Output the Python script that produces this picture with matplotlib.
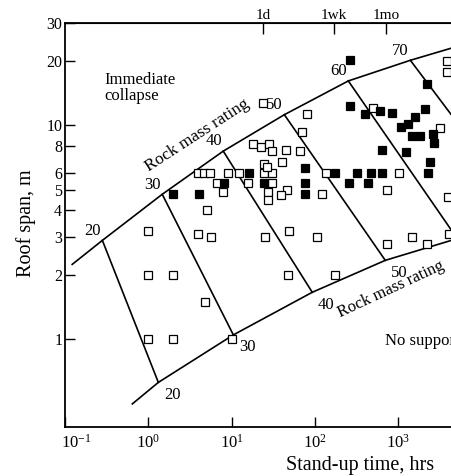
import numpy as np
import matplotlib
matplotlib.use("Agg")
import matplotlib.pyplot as plt
import matplotlib.transforms as mtransforms
from matplotlib.ticker import NullLocator

plt.rcParams["font.family"] = ["Liberation Serif", "DejaVu Serif"]
plt.rcParams["mathtext.fontset"] = "stix"

# boundary curves of the stand-up time chart (hrs, m)
upper_time = [0.122, 0.281, 1.47, 7.94, 43, 252, 1400, 4340, 20000]
upper_span = [2.24, 2.90, 4.76, 7.57, 11.2, 16.1, 20.1, 22.9, 27]
lower_time = [0.643, 1.32, 10.5, 93, 700, 4340, 40000]
lower_span = [0.50, 0.63, 1.05, 1.66, 2.34, 2.90, 3.55]

# rock mass rating divider lines
rmr = [20, 30, 40, 50, 60, 70]
rmr_top_time = [0.281, 1.47, 7.94, 43, 252, 1400]
rmr_top_span = [2.90, 4.76, 7.57, 11.2, 16.1, 20.1]
rmr_bot_time = [1.32, 10.5, 93, 700, 5100, 40000]
rmr_bot_span = [0.63, 1.05, 1.66, 2.34, 2.96, 3.55]

# case histories: open squares
open_time = [1.0, 1.0, 2.0, 4.8, 1.0, 2.0, 10, 3.9, 5.7, 5.0,
             3.9, 4.7, 5.5, 6.7, 7.9, 9.1, 12.4, 15.9, 24.7, 30.8,
             30.8, 18.2, 22.7, 28.3, 30.8, 45.4, 66.8, 40.5, 24.7, 26.9,
             27.6, 46.7, 39.5, 27.6, 123, 137, 24, 81, 70.6, 1030,
             740, 502, 3200, 3880, 3880, 3990, 25, 49, 107, 48,
             176, 740, 1480, 2240, 4100]
open_span = [3.2, 2.0, 2.0, 1.5, 1.0, 1.0, 1.0, 3.1, 3.0, 4.0,
             6.0, 6.0, 6.0, 5.4, 4.9, 6.0, 6.0, 5.4, 6.0, 6.0,
             5.4, 8.2, 7.9, 8.2, 7.6, 7.7, 7.6, 6.7, 6.6, 6.4,
             4.9, 5.0, 4.7, 4.5, 4.8, 6.0, 12.7, 11.3, 9.3, 6.0,
             5.0, 12.1, 9.7, 19.9, 17.7, 4.6, 3.0, 3.2, 3.0, 2.0,
             2.0, 2.8, 3.0, 2.8, 3.1]

# case histories: filled squares
fill_time = [2.0, 4.1, 8.2, 16.3, 24.7, 76.7, 76.7, 76.7, 176, 259,
             323, 438, 475, 644, 2300, 2430, 644, 1250, 266, 403,
             610, 849, 2115, 1090, 1320, 1600, 1480, 1840, 2640, 2710,
             266, 2240]
fill_span = [4.8, 4.8, 5.4, 6.0, 5.4, 6.3, 5.4, 4.8, 6.0, 5.4,
             6.0, 5.4, 6.0, 6.0, 6.0, 6.7, 7.7, 7.5, 12.3, 11.3,
             11.7, 11.4, 11.9, 9.8, 10.1, 10.9, 8.9, 8.9, 9.1, 8.3,
             20.1, 15.5]

yticks = [1, 2, 3, 4, 5, 6, 8, 10, 20, 30]
xticks = [0.1, 1, 10, 100, 1000, 10000, 100000]
top_ticks = [24, 168, 720]
top_labels = ["1d", "1wk", "1mo"]

fig = plt.figure(figsize=(4.51, 4.76), dpi=100)
ax = fig.add_axes([0.1441, 0.1029, 1.1082, 0.8487])
ax.set_xscale("log")
ax.set_yscale("log")
ax.set_xlim(0.1, 1e5)
ax.set_ylim(0.39, 30)

lw = 1.2
ax.plot(upper_time, upper_span, color="black", lw=lw)
ax.plot(lower_time, lower_span, color="black", lw=lw)
for i in range(len(rmr)):
    ax.plot([rmr_top_time[i], rmr_bot_time[i]], [rmr_top_span[i], rmr_bot_span[i]],
            color="black", lw=lw)
    ax.annotate(str(rmr[i]), (rmr_top_time[i], rmr_top_span[i]), xytext=(-7, 7),
                textcoords="offset points", ha="center", va="center", fontsize=12)
    ax.annotate(str(rmr[i]), (rmr_bot_time[i], rmr_bot_span[i]), xytext=(10, -9),
                textcoords="offset points", ha="center", va="center", fontsize=12)

ax.plot(open_time, open_span, "s", ms=6, mfc="white", mec="black", mew=0.9, ls="none")
ax.plot(fill_time, fill_span, "s", ms=6, mfc="black", mec="black", mew=0.9, ls="none")

ax.text(0.3, 17.7, "Immediate\ncollapse", fontsize=12, ha="left", va="top", linespacing=0.95)
ax.text(1.02, 6.1, "Rock mass rating", fontsize=12.5, rotation=33, rotation_mode="anchor",
        ha="left", va="baseline")
ax.text(202, 1.27, "Rock mass rating", fontsize=12, rotation=25, rotation_mode="anchor",
        ha="left", va="baseline")
ax.text(700, 0.94, "No support required", fontsize=12, ha="left", va="baseline")

ax.set_yticks(yticks)
ax.set_yticklabels([str(v) for v in yticks])
ax.yaxis.set_minor_locator(NullLocator())
ax.set_xticks(xticks)
ax.xaxis.set_minor_locator(NullLocator())
ax.tick_params(axis="y", direction="in", length=7, width=1, pad=2, labelsize=11.5)
ax.tick_params(axis="x", direction="in", length=7, width=1, pad=5, labelsize=12)
for s in ax.spines.values():
    s.set_linewidth(1.3)

# the 10^-1 label sits a little right of the corner in the original
first = ax.get_xticklabels()[0]
first.set_transform(first.get_transform() +
                    mtransforms.ScaledTranslation(0.11, 0, fig.dpi_scale_trans))

top = ax.secondary_xaxis("top")
top.set_xticks(top_ticks)
top.set_xticklabels(top_labels)
top.xaxis.set_minor_locator(NullLocator())
top.tick_params(axis="x", direction="in", length=8, width=1, pad=1, labelsize=11)

ax.set_xlabel("Stand-up time, hrs", fontsize=14.5)
ax.xaxis.set_label_coords(0.59, -0.072)
ax.set_ylabel("Roof span, m", fontsize=14.5)
ax.yaxis.set_label_coords(-0.058, 0.505)

fig.savefig("out.png", dpi=100)
